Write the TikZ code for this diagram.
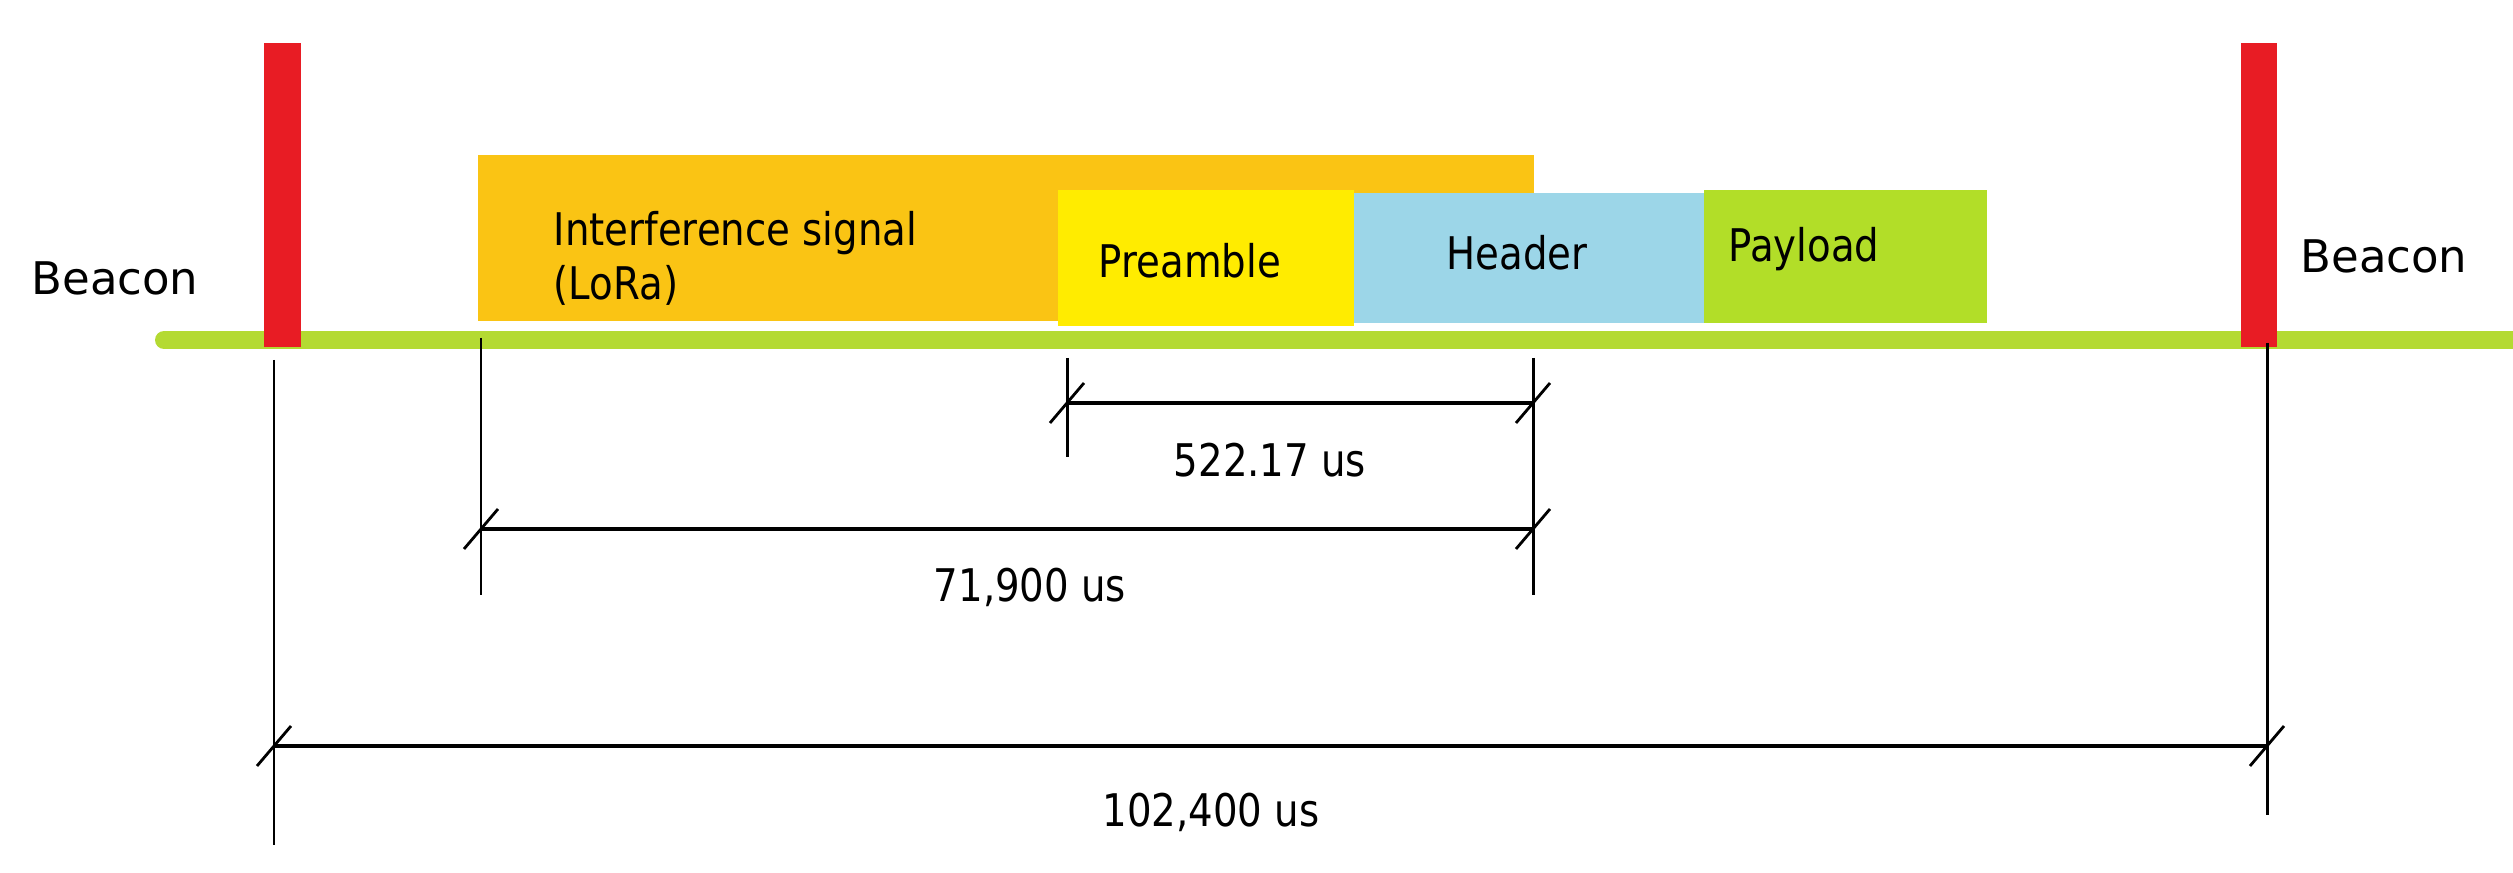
\documentclass[tikz,border=0pt]{standalone}
\usepackage{fontspec}
\setmainfont{DejaVu Sans}
\newfontfamily\narrowfont[FakeStretch=0.86]{DejaVu Sans}
\usepackage{tikz}

\definecolor{beaconred}{RGB}{232,28,36}
\definecolor{busgreen}{RGB}{180,218,50}
\definecolor{loraorange}{RGB}{250,196,20}
\definecolor{preyellow}{RGB}{255,236,0}
\definecolor{headblue}{RGB}{156,214,232}
\definecolor{paygreen}{RGB}{178,222,40}

\tikzset{
  slot/.style={inner sep=0pt,outer sep=0pt,anchor=south west},
  lbl/.style={inner sep=0pt,anchor=base,font=\narrowfont\fontsize{12.8}{15.4}\selectfont},
  beaconlbl/.style={inner sep=0pt,anchor=base,font=\fontsize{12.8}{15.4}\selectfont},
  ext/.style={line width=0.85pt},
  dimline/.style={line width=1.2pt},
  tick/.style={line width=0.8pt}
}

\begin{document}
\begin{tikzpicture}[line join=round,x=1cm,y=1cm]
		\useasboundingbox (0.,0.) rectangle (25.13,8.73);
		\draw [busgreen,line width=0.18cm,line cap=round] (1.64,5.33)-- (25.4,5.33);
		\node [slot,fill=beaconred,minimum width=0.37cm,minimum height=3.04cm] (bcnL) at (2.64,5.26) {};
		\node [slot,fill=beaconred,minimum width=0.36cm,minimum height=3.04cm] (bcnR) at (22.41,5.26) {};
		\node [slot,fill=loraorange,minimum width=10.56cm,minimum height=1.66cm] (lora) at (4.78,5.52) {};
		\node [slot,fill=preyellow,minimum width=2.96cm,minimum height=1.36cm] (preamble) at (10.58,5.47) {};
		\node [slot,fill=headblue,minimum width=3.50cm,minimum height=1.30cm] (header) at (13.54,5.50) {};
		\node [slot,fill=paygreen,minimum width=2.83cm,minimum height=1.33cm] (payload) at (17.04,5.50) {};
		\node [beaconlbl] (bcnLtxt) at (1.15,5.78) {Beacon};
		\node [beaconlbl] (bcnRtxt) at (23.84,6.00) {Beacon};
		\node [lbl,anchor=base west,align=left] (loratxt) at (5.53,5.73) {Interference signal\\(LoRa)};
		\node [lbl] (pretxt) at (11.90,5.95) {Preamble};
		\node [lbl] (headtxt) at (15.17,6.03) {Header};
		\node [lbl] (paytxt) at (18.04,6.11) {Payload};
		\coordinate (eA1) at (2.74,5.13);
		\coordinate (eA2) at (2.74,0.28);
		\coordinate (eB1) at (4.81,5.35);
		\coordinate (eB2) at (4.81,2.78);
		\coordinate (eC1) at (10.67,5.15);
		\coordinate (eC2) at (10.67,4.16);
		\coordinate (eD1) at (15.33,5.15);
		\coordinate (eD2) at (15.33,2.78);
		\coordinate (eE1) at (22.67,5.30);
		\coordinate (eE2) at (22.67,0.58);
		\draw [ext] (eA1)-- (eA2);
		\draw [ext] (eB1)-- (eB2);
		\draw [ext] (eC1)-- (eC2);
		\draw [ext] (eD1)-- (eD2);
		\draw [ext] (eE1)-- (eE2);
		\coordinate (dPa) at (10.67,4.70);
		\coordinate (dPb) at (15.33,4.70);
		\coordinate (dLa) at (4.81,3.44);
		\coordinate (dLb) at (15.33,3.44);
		\coordinate (dBa) at (2.74,1.27);
		\coordinate (dBb) at (22.67,1.27);
		\draw [dimline] (dPa)-- (dPb);
		\draw [dimline] (dLa)-- (dLb);
		\draw [dimline] (dBa)-- (dBb);
		\foreach \p in {dPa,dPb,dLa,dLb,dBa,dBb}
			\draw [tick] ([shift={(-0.17,-0.2)}]\p)-- ([shift={(0.17,0.2)}]\p);
		\node [lbl] (preDur) at (12.70,3.96) {522.17 us};
		\node [lbl] (loraDur) at (10.30,2.71) {71,900 us};
		\node [lbl] (bcnDur) at (12.11,0.46) {102,400 us};
\end{tikzpicture}
\end{document}
